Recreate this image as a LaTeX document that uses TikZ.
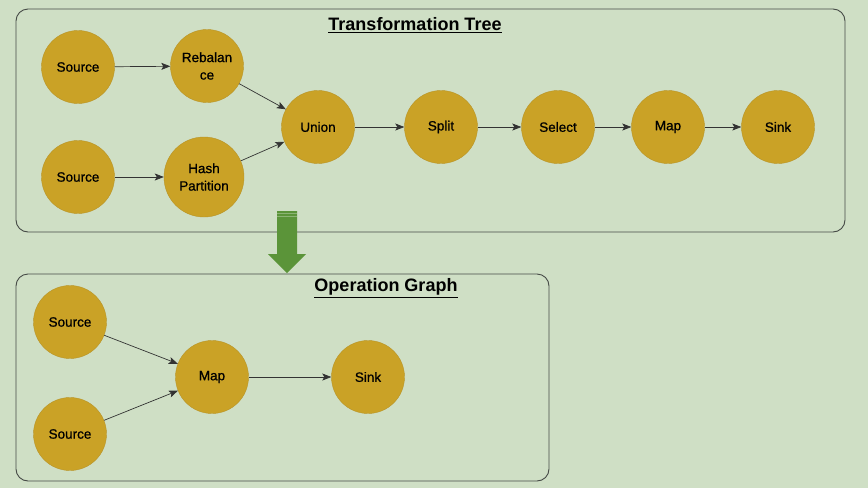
\documentclass[tikz,border=0pt]{standalone}
\usepackage{fontspec}
\setsansfont{Liberation Sans}
\newfontfamily\opfont[FakeBold=0.7]{Liberation Sans}
\usepackage{tikz}
\usetikzlibrary{arrows.meta}
\definecolor{bgcol}{RGB}{207,223,197}
\definecolor{opfill}{RGB}{202,162,38}
\definecolor{opline}{RGB}{184,148,40}
\definecolor{boxline}{RGB}{70,74,70}
\definecolor{bigarrow}{RGB}{91,148,57}
\tikzset{
  op/.style={circle,fill=opfill,draw=opline,thin,minimum size=73pt,inner sep=1pt,
    align=center,font=\opfont\fontsize{13.5}{17.5}\selectfont},
  grp/.style={draw=boxline,line width=0.9pt,rounded corners=12pt},
  title/.style={font=\sffamily\bfseries\fontsize{18}{20}\selectfont},
  link/.style={-{Stealth[length=9pt,width=7pt,inset=2pt]},draw=black!80,line width=0.7pt}
}

\begin{document}
\begin{tikzpicture}[x=1pt,y=-1pt]
      \fill[bgcol] (0,0) rectangle (868,488);
      % the two groups
      \draw[grp] (16,9) rectangle (845,232);
      \draw[grp] (16,274) rectangle (549,481);
      \node[title] (tree) at (415,25) {\underline{Transformation Tree}};
      \node[title] (graph) at (386,288) {\underline{Operation Graph}};
      % transformation tree
      \node[op] (src1) at (78,67) {Source};
      \node[op] (src2) at (78,177) {Source};
      \node[op] (rebal) at (207,66) {Rebalan\\ce};
      \node[op,minimum size=80pt] (hash) at (204,177) {Hash\\Partition};
      \node[op] (union) at (318,127) {Union};
      \node[op] (split) at (441,127) {Split};
      \node[op] (select) at (558,127) {Select};
      \node[op] (map) at (668,127) {Map};
      \node[op] (sink) at (778,127) {Sink};
      \foreach \a/\b in {src1/rebal,src2/hash,rebal/union,hash/union,
                         union/split,split/select,select/map,map/sink}
        \draw[link] (\a) -- (\b);
      % operation graph
      \node[op] (osrc1) at (70,322) {Source};
      \node[op] (osrc2) at (70,434) {Source};
      \node[op] (omap) at (212,377) {Map};
      \node[op] (osink) at (368,377) {Sink};
      \foreach \a/\b in {osrc1/omap,osrc2/omap,omap/osink}
        \draw[link] (\a) -- (\b);
      % big arrow between the groups
      \fill[bigarrow] (277,211) -- (297,211) -- (297,254) -- (306,254)
          -- (287,273) -- (268,254) -- (277,254) -- cycle;
      \foreach \y in {213.5,216}
        \draw[bigarrow!70!white,line width=0.5pt] (277,\y) -- (297,\y);
    \end{tikzpicture}
\end{document}
